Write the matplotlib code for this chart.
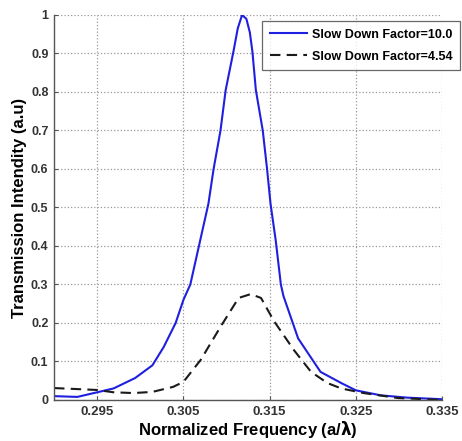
import matplotlib.pyplot as plt
import numpy as np

plt.rcParams['font.family'] = ['Liberation Sans', 'DejaVu Sans']
plt.rcParams['font.weight'] = 'bold'

# Data
f_slow10 = [0.2900, 0.2927, 0.2950, 0.2969, 0.2994, 0.3014, 0.3027, 0.3041,
            0.3050, 0.3058, 0.3068, 0.3079, 0.3085, 0.3093, 0.3099, 0.3108,
            0.3113, 0.3118, 0.3123, 0.3127, 0.3130, 0.3134, 0.3142, 0.3147,
            0.3151, 0.3157, 0.3163, 0.3166, 0.3183, 0.3209, 0.3233, 0.3250,
            0.3279, 0.3310, 0.3350]
t_slow10 = [0.010, 0.008, 0.020, 0.030, 0.057, 0.090, 0.137, 0.200,
            0.260, 0.300, 0.400, 0.510, 0.600, 0.700, 0.805, 0.905,
            0.965, 1.000, 0.990, 0.955, 0.905, 0.805, 0.700, 0.600,
            0.510, 0.415, 0.300, 0.270, 0.160, 0.073, 0.044, 0.025,
            0.012, 0.006, 0.002]

f_slow454 = [0.2900, 0.2950, 0.2969, 0.2992, 0.3014, 0.3038, 0.3050, 0.3070,
             0.3093, 0.3114, 0.3128, 0.3140, 0.3155, 0.3178, 0.3198, 0.3217,
             0.3233, 0.3259, 0.3299, 0.3350]
t_slow454 = [0.031, 0.026, 0.020, 0.018, 0.021, 0.034, 0.047, 0.104,
             0.190, 0.265, 0.275, 0.265, 0.205, 0.130, 0.073, 0.044,
             0.030, 0.018, 0.005, 0.000]

xticks = [0.295, 0.305, 0.315, 0.325, 0.335]
yticks = [0, 0.1, 0.2, 0.3, 0.4, 0.5, 0.6, 0.7, 0.8, 0.9, 1]
ytick_labels = ['0', '0.1', '0.2', '0.3', '0.4', '0.5', '0.6', '0.7', '0.8', '0.9', '1']

fig = plt.figure(figsize=(4.62, 4.41), dpi=100)
ax = fig.add_axes([0.117, 0.093, 0.840, 0.873])

ax.plot(f_slow10, t_slow10, '-', color='#1f1fe0', linewidth=1.5, label='Slow Down Factor=10.0')
ax.plot(f_slow454, t_slow454, '--', color='#1a1a1a', linewidth=1.5, dashes=(5, 3),
        label='Slow Down Factor=4.54')

ax.set_xlim(0.29, 0.335)
ax.set_ylim(0, 1)
ax.set_xticks(xticks)
ax.set_xticklabels(['%.3f' % v for v in xticks])
ax.set_yticks(yticks)
ax.set_yticklabels(ytick_labels)

ax.grid(True, linestyle=':', color='#999999', linewidth=0.9)
for s in ['top', 'right']:
    ax.spines[s].set_visible(False)
for s in ['left', 'bottom']:
    ax.spines[s].set_color('#555555')
    ax.spines[s].set_linewidth(1.0)
ax.tick_params(direction='in', length=3, color='#555555', pad=4)
ax.tick_params(axis='x', labelsize=9.5)
ax.tick_params(axis='y', labelsize=9)
for label in ax.get_xticklabels() + ax.get_yticklabels():
    label.set_fontweight('bold')
    label.set_color('#333333')

ax.set_xlabel(r'Normalized Frequency (a/$\mathbf{\lambda}$)', fontsize=12, fontweight='bold', labelpad=1)
ax.set_ylabel('Transmission Intendity (a.u)', fontsize=12, fontweight='bold', labelpad=3)

leg = ax.legend(loc='upper right', bbox_to_anchor=(0.996, 0.952), bbox_transform=fig.transFigure,
                fontsize=9, frameon=True, fancybox=False, borderpad=0.6,
                handlelength=3.0, handletextpad=0.4, labelspacing=0.8, borderaxespad=0)
leg.get_frame().set_edgecolor('#444444')
leg.get_frame().set_linewidth(0.9)
for t in leg.get_texts():
    t.set_fontweight('bold')

fig.savefig('out.png', dpi=100)
